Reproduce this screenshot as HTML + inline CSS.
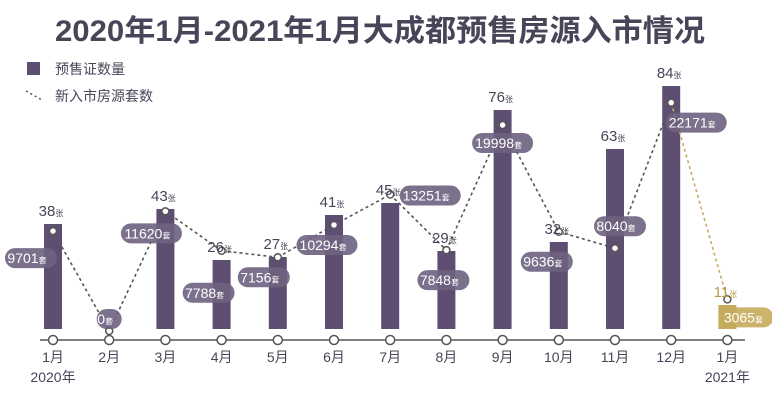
<!DOCTYPE html>
<html><head><meta charset="utf-8">
<style>
body{margin:0;background:#fff;}
svg{display:block;font-family:"Liberation Sans","Noto Sans CJK SC",sans-serif;}
</style></head>
<body>
<svg id="chart" width="772" height="400" viewBox="0 0 772 400">
<text x="380" y="41" text-anchor="middle" font-size="30" fill="#4a4458" font-weight="bold" textLength="650" lengthAdjust="spacingAndGlyphs">2020年1月-2021年1月大成都预售房源入市情况</text>
<g>
<rect x="27" y="62" width="13" height="13" fill="#5e4f72"></rect>
<text x="55" y="74" font-size="14" fill="#4a4458">预售证数量</text>
<line x1="26" y1="91" x2="42" y2="100" stroke="#555" stroke-width="1.5" stroke-dasharray="2,3"></line>
<text x="55" y="101" font-size="14" fill="#4a4458">新入市房源套数</text>
</g>
<line x1="40" y1="340" x2="745" y2="340" stroke="#555" stroke-width="1.5"></line>
<g id="marks"></g>
</svg>
<script>
const months = ["1月","2月","3月","4月","5月","6月","7月","8月","9月","10月","11月","12月","1月"];
const permits = [38,0,43,26,27,41,45,29,76,32,63,84,11];
const units = [9701,0,11620,7788,7156,10294,13251,7848,19998,9636,8040,22171,3065];
const yearLabels = ["2020年","","","","","","","","","","","","2021年"];
// label pill offsets relative to each point (layout only)
const pillDx = [-22,0,-14,-13,-14,-7,40,-3,0,-12,5,25,20];
const pillDy = [27,-12,22,42,20,20,1,30,18,30,-22,20,18];

const NS="http://www.w3.org/2000/svg";
const g=document.getElementById('marks');
function mk(tag,attrs,parent){const e=document.createElementNS(NS,tag);for(const k in attrs)e.setAttribute(k,attrs[k]);(parent||g).appendChild(e);return e;}
const xs=i=>53+i*56.2;
const yBar=v=>338-v*3.0;
const yLine=v=>331-v*0.0103;
const purple="#5e4f72", gold="#c6ab5c";

permits.forEach((v,i)=>{
  if(v<=0)return;
  const last=i===months.length-1;
  const top=Math.min(yBar(v),329);
  const b=mk('rect',{x:xs(i)-9,y:top,width:18,height:329-top,fill:last?gold:purple});
  
  
});
for(let i=0;i<units.length-1;i++){
  const last=i===units.length-2;
  const l=mk('line',{x1:xs(i),y1:yLine(units[i]),x2:xs(i+1),y2:yLine(units[i+1]),stroke:last?gold:"#555","stroke-width":1.6,"stroke-dasharray":"3,3"});
  
  
}
units.forEach((v,i)=>{
  const c=mk('circle',{cx:xs(i),cy:yLine(v),r:3.5,fill:"#fff",stroke:"#555","stroke-width":1.5});
  
  
});
permits.forEach((v,i)=>{
  if(v<=0)return;
  const last=i===months.length-1;
  const t=mk('text',{x:xs(i)-2,y:yBar(v)-8,"text-anchor":"middle","font-size":15,fill:last?"#b89d4c":"#4a4458"});
  t.textContent=v;
  const s=mk('tspan',{"font-size":8},t);s.textContent="张";
  
  
});
units.forEach((v,i)=>{
  const last=i===units.length-1;
  const txt=String(v);
  const w=txt.length*9+16;
  const cx=xs(i)+pillDx[i];
  const cy=yLine(v)+pillDy[i];
  const r=mk('rect',{x:cx-w/2,y:cy-10,width:w,height:20,rx:10,fill:last?gold:"#6e6280",opacity:0.9});
  
  
  const t=mk('text',{x:cx-4,y:cy+5,"text-anchor":"middle","font-size":14,fill:"#fff"});
  t.textContent=txt;
  const s=mk('tspan',{"font-size":8},t);s.textContent="套";
  
  
});
months.forEach((m,i)=>{
  const c=mk('circle',{cx:xs(i),cy:340,r:4.5,fill:"#fff",stroke:"#555","stroke-width":1.5});
  
  
  const t=mk('text',{x:xs(i),y:362,"text-anchor":"middle","font-size":14,fill:"#4a4458"});
  t.textContent=m;
  
  
  if(yearLabels[i]){
    const y=mk('text',{x:xs(i),y:382,"text-anchor":"middle","font-size":14,fill:"#4a4458"});
    y.textContent=yearLabels[i];
    
    
  }
});
</script>
</body></html>
